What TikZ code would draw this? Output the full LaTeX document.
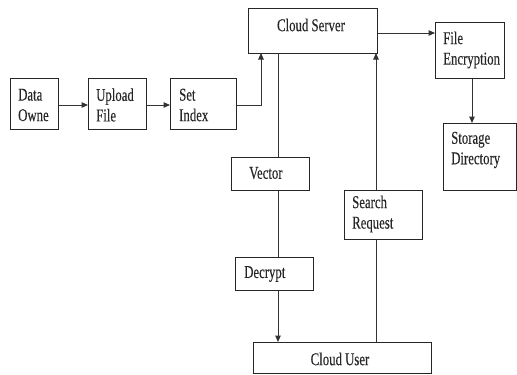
\documentclass[tikz,border=0pt]{standalone}
\usepackage{fontspec}
\newfontfamily\tfont[FakeStretch=0.71,FakeBold=0.25]{Liberation Serif}
\usetikzlibrary{arrows.meta}
\begin{document}
\begin{tikzpicture}[x=1pt,y=-1pt,
  box/.style={draw=black!85, line width=1pt, inner sep=0pt, anchor=north west},
  txt/.style={font=\tfont\fontsize{18}{20.5}\selectfont, text=black!85, inner sep=0pt, align=left},
  conn/.style={draw=black!80, line width=1pt},
  arr/.style={conn, -{Triangle[length=6.5pt,width=5.5pt]}}]
\useasboundingbox (0,0) rectangle (517,375);
% boxes
\node[box, minimum width=48pt, minimum height=51pt] (do) at (10,78) {};
\node[box, minimum width=58pt, minimum height=51pt] (uf) at (88,78) {};
\node[box, minimum width=66pt, minimum height=51pt] (si) at (170,78) {};
\node[box, minimum width=129pt, minimum height=45pt] (cs) at (248,8) {};
\node[box, minimum width=69pt, minimum height=56pt] (fe) at (435,22) {};
\node[box, minimum width=73pt, minimum height=67pt] (sd) at (443,123) {};
\node[box, minimum width=78pt, minimum height=33pt] (vec) at (231,157) {};
\node[box, minimum width=78pt, minimum height=49pt] (sr) at (344,190) {};
\node[box, minimum width=78pt, minimum height=33pt] (dec) at (235,257) {};
\node[box, minimum width=178pt, minimum height=31pt] (cu) at (253,342) {};
% texts
\node[txt, anchor=west] (tdo) at (18,105) {Data\\Owne};
\node[txt, anchor=west] (tuf) at (96,105) {Upload\\File};
\node[txt, anchor=west] (tsi) at (179,105) {Set\\Index};
\node[txt, anchor=center] (tcs) at (311,25) {Cloud Server};
\node[txt, anchor=west] (tfe) at (443,50) {File\\Encryption};
\node[txt, anchor=west] (tsd) at (451,150) {Storage\\Directory};
\node[txt, anchor=west] (tvec) at (249,173) {Vector};
\node[txt, anchor=west] (tsr) at (352,214) {Search\\Request};
\node[txt, anchor=west] (tdec) at (244,274) {Decrypt};
\node[txt, anchor=center] (tcu) at (340,359) {Cloud User};
% connector points
\coordinate (csin) at (261,53);
\coordinate (csout) at (278,53);
\coordinate (csup) at (376,53);
% connectors
\draw[arr] (do.east |- 0,105) -- (uf.west |- 0,105);
\draw[arr] (uf.east |- 0,105) -- (si.west |- 0,105);
\draw[arr] (si.east |- 0,105) -| (csin);
\draw[arr] (cs.east |- 0,33) -- (fe.west |- 0,33);
\draw[arr] (fe.south -| 472,0) -- (sd.north -| 472,0);
\draw[conn] (csout) -- (vec.north -| csout);
\draw[conn] (vec.south -| csout) -- (dec.north -| csout);
\draw[arr] (dec.south -| csout) -- (cu.north -| csout);
\draw[conn] (cu.north -| csup) -- (sr.south -| csup);
\draw[arr] (sr.north -| csup) -- (csup);
\end{tikzpicture}
\end{document}
